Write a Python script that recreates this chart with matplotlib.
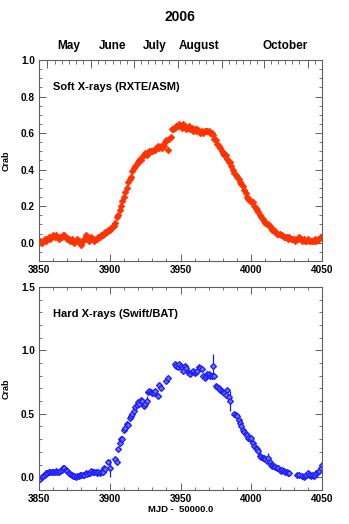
import numpy as np
import matplotlib
matplotlib.use('Agg')
import matplotlib.pyplot as plt
from matplotlib.ticker import MultipleLocator, FixedLocator, FormatStrFormatter

plt.rcParams['font.family'] = ['Liberation Sans', 'DejaVu Sans']
plt.rcParams['font.weight'] = 'bold'

# RXTE/ASM daily values, MJD-50000 = 3850 ... 4050
asm_day = np.arange(3850, 4051)
asm_rate = [
    0.00, 0.01, 0.00, 0.01, 0.02, 0.01, 0.02, 0.03, 0.02, 0.03,
    0.04, 0.03, 0.04, 0.03, 0.02, 0.03, 0.03, 0.04, 0.04, 0.03,
    0.02, 0.02, 0.01, 0.02, 0.01, 0.00, 0.01, 0.02, 0.01, 0.00,
    -0.01, 0.01, 0.02, 0.04, 0.02, 0.01, 0.02, 0.03, 0.02, 0.01,
    0.02, 0.02, 0.03, 0.03, 0.04, 0.04, 0.05, 0.06, 0.06, 0.07,
    0.07, 0.08, 0.09, 0.09, 0.11, 0.14, 0.15, 0.18, 0.20, 0.23,
    0.25, 0.28, 0.30, 0.33, 0.35, 0.36, 0.39, 0.41, 0.42, 0.43,
    0.44, 0.45, 0.45, 0.47, 0.48, 0.49, 0.48, 0.49, 0.50, 0.50,
    0.50, 0.51, 0.51, 0.52, 0.53, 0.52, 0.53, 0.52, 0.53, 0.55,
    0.56, 0.51, 0.57, 0.58, 0.62, 0.62, 0.63, 0.64, 0.64, 0.65,
    0.64, 0.63, 0.65, 0.64, 0.62, 0.63, 0.64, 0.62, 0.63, 0.61,
    0.62, 0.61, 0.62, 0.61, 0.60, 0.61, 0.60, 0.61, 0.61, 0.61,
    0.61, 0.60, 0.60, 0.59, 0.57, 0.56, 0.54, 0.53, 0.52, 0.50,
    0.49, 0.48, 0.48, 0.46, 0.44, 0.44, 0.42, 0.40, 0.38, 0.37,
    0.36, 0.35, 0.33, 0.32, 0.31, 0.29, 0.27, 0.25, 0.24, 0.23,
    0.23, 0.22, 0.20, 0.19, 0.18, 0.17, 0.15, 0.14, 0.13, 0.12,
    0.11, 0.10, 0.10, 0.09, 0.08, 0.07, 0.07, 0.06, 0.05, 0.05,
    0.05, 0.04, 0.04, 0.03, 0.03, 0.03, 0.02, 0.03, 0.02, 0.02,
    0.02, 0.01, 0.02, 0.02, 0.03, 0.02, 0.01, 0.02, 0.01, 0.01,
    0.02, 0.01, 0.01, 0.01, 0.01, 0.02, 0.01, 0.02, 0.02, 0.03, 0.03,
]
asm_err = 0.012

# Swift/BAT
bat_day = [
    3850, 3851, 3852, 3853, 3854, 3855, 3856, 3857, 3858, 3859,
    3860, 3861, 3862, 3863, 3864, 3865, 3866, 3867, 3868, 3869,
    3870, 3871, 3872, 3873, 3874, 3875, 3876, 3877, 3878, 3879,
    3880, 3881, 3882, 3883, 3884, 3885, 3886, 3887, 3888, 3889,
    3890, 3891, 3892, 3893, 3894, 3895, 3896, 3897, 3899,
    3904, 3905, 3906, 3907, 3908, 3909, 3910, 3911, 3912, 3913,
    3914, 3915, 3916, 3917, 3918, 3919, 3920, 3921, 3922, 3923,
    3924, 3925, 3927, 3928, 3929, 3930, 3931, 3932, 3934, 3935,
    3936, 3940, 3941, 3946, 3947, 3948, 3949, 3950, 3951, 3952,
    3953, 3954, 3955, 3956, 3957, 3958, 3959, 3960, 3961, 3962,
    3963, 3964, 3965, 3966, 3967, 3968, 3969, 3970, 3971, 3972,
    3974, 3975, 3976, 3977, 3978, 3979, 3980, 3981, 3982, 3983,
    3984, 3988, 3989, 3990, 3991, 3992, 3993, 3994, 3995, 3996,
    3997, 3998, 3999, 4000, 4001, 4002, 4003, 4004, 4005, 4006,
    4007, 4008, 4009, 4010, 4011, 4013, 4014, 4015, 4016, 4017,
    4018, 4019, 4020, 4021, 4022, 4023, 4024, 4025, 4026, 4027,
    4032, 4034, 4036, 4037, 4038, 4039, 4040, 4041, 4042, 4043,
    4044, 4045, 4046, 4047, 4048, 4049, 4050,
]
bat_rate = [
    -0.01, -0.01, 0.00, 0.01, 0.02, 0.03, 0.035, 0.04, 0.04, 0.04,
    0.045, 0.04, 0.05, 0.045, 0.04, 0.05, 0.06, 0.07, 0.07, 0.06,
    0.05, 0.035, 0.025, 0.015, 0.01, 0.01, 0.005, 0.01, 0.01, 0.015,
    0.015, 0.02, 0.02, 0.03, 0.025, 0.035, 0.03, 0.05, 0.045, 0.04,
    0.04, 0.035, 0.04, 0.035, 0.04, 0.045, 0.07, 0.065, 0.12,
    0.14, 0.12, 0.22, 0.27, 0.30, 0.30, 0.37, 0.39, 0.42, 0.41,
    0.47, 0.48, 0.50, 0.52, 0.55, 0.57, 0.59, 0.58, 0.61, 0.60,
    0.56, 0.58, 0.67, 0.68, 0.67, 0.66, 0.66, 0.68, 0.64, 0.73,
    0.70, 0.76, 0.78, 0.89, 0.88, 0.87, 0.89, 0.88, 0.86, 0.84,
    0.88, 0.86, 0.83, 0.82, 0.81, 0.83, 0.84, 0.82, 0.83, 0.84,
    0.87, 0.86, 0.85, 0.80, 0.78, 0.80, 0.81, 0.81, 0.80, 0.80,
    0.80, 0.72, 0.71, 0.70, 0.69, 0.68, 0.67, 0.66, 0.65, 0.69,
    0.63, 0.50, 0.49, 0.48, 0.45, 0.43, 0.40, 0.37, 0.36, 0.34,
    0.33, 0.31, 0.30, 0.31, 0.27, 0.25, 0.23, 0.22, 0.21, 0.17,
    0.16, 0.15, 0.15, 0.14, 0.13, 0.12, 0.10, 0.09, 0.09, 0.08,
    0.07, 0.07, 0.06, 0.05, 0.055, 0.05, 0.04, 0.04, 0.03, 0.03,
    0.02, 0.02, 0.01, 0.005, 0.01, 0.02, 0.03, 0.02, 0.01, 0.02,
    0.01, 0.02, 0.03, 0.04, 0.05, 0.07, 0.10,
]
bat_err = 0.015
# BAT points with large error bars
bat_big_day = [3900, 3926, 3973, 3985, 4012]
bat_big_rate = [0.07, 0.60, 0.88, 0.60, 0.15]
bat_big_err = [0.07, 0.04, 0.09, 0.08, 0.04]

month_start = [3856, 3887, 3917, 3948, 3979, 4009, 4040]
month_names = ['May', 'June', 'July', 'August', 'October']
month_mid = [3871, 3902, 3932, 3963, 4024]

red = '#ff3300'
blue = '#1a1aff'
gray = '#606060'

fig = plt.figure(figsize=(3.49, 5.24), dpi=100)
ax1 = fig.add_axes([0.1117, 0.502, 0.811, 0.3835])
ax2 = fig.add_axes([0.1117, 0.065, 0.811, 0.3875])

def style_axis(ax):
    for s in ax.spines.values():
        s.set_color(gray)
        s.set_linewidth(0.8)
    ax.tick_params(which='both', direction='in', color=gray, labelsize=7.2,
                   right=True, top=True, pad=3)
    ax.tick_params(which='major', length=5, width=0.7)
    ax.tick_params(which='minor', length=2.5, width=0.6)
    ax.set_xlim(3850, 4050)
    ax.xaxis.set_major_locator(MultipleLocator(50))
    ax.xaxis.set_minor_locator(MultipleLocator(10))
    ax.yaxis.set_major_formatter(FormatStrFormatter('%.1f'))

# top panel: soft X-rays
ax1.errorbar(asm_day, asm_rate, yerr=asm_err, fmt='D', color=red, ms=3.4,
             mew=0.5, elinewidth=0.6, capsize=0)
ax1.set_ylim(-0.1, 1.0)
ax1.yaxis.set_major_locator(MultipleLocator(0.2))
ax1.yaxis.set_minor_locator(MultipleLocator(0.05))
style_axis(ax1)
ax1.set_ylabel('Crab', fontsize=6.5, fontweight='bold', labelpad=7)
ax1.text(0.05, 0.85, 'Soft X-rays (RXTE/ASM)', transform=ax1.transAxes,
         fontsize=8, fontweight='bold')

# month ticks on top of the upper panel
axm = ax1.twiny()
axm.set_xlim(3850, 4050)
axm.xaxis.set_major_locator(FixedLocator(month_start))
weeks = []
for m in month_start:
    for d in (5, 10, 15, 20, 25):
        if 3850 < m + d < 4050:
            weeks.append(m + d)
axm.xaxis.set_minor_locator(FixedLocator(weeks))
axm.tick_params(which='both', direction='in', color=gray, labeltop=False)
axm.tick_params(which='major', length=6, width=0.7)
axm.tick_params(which='minor', length=3, width=0.6)
ax1.tick_params(axis='x', which='both', top=False)
for s in axm.spines.values():
    s.set_visible(False)
for name, x in zip(month_names, month_mid):
    ax1.text(x, 1.04, name, transform=ax1.get_xaxis_transform(),
             ha='center', va='bottom', fontsize=8.5, fontweight='bold')
fig.text(0.515, 0.968, '2006', ha='center', va='center', fontsize=10,
         fontweight='bold')

# bottom panel: hard X-rays
ax2.errorbar(bat_day, bat_rate, yerr=bat_err, fmt='D', color=blue, ms=3.0,
             mfc='#7070ff', mec=blue, mew=0.9, elinewidth=0.8, capsize=0)
ax2.errorbar(bat_big_day, bat_big_rate, yerr=bat_big_err, fmt='D', color=blue,
             ms=3.0, mfc='#7070ff', mec=blue, mew=0.9, elinewidth=0.9,
             capsize=0)
ax2.set_ylim(-0.1, 1.5)
ax2.yaxis.set_major_locator(MultipleLocator(0.5))
ax2.yaxis.set_minor_locator(MultipleLocator(0.1))
style_axis(ax2)
ax2.set_ylabel('Crab', fontsize=6.5, fontweight='bold', labelpad=7)
ax2.set_xlabel('MJD -  50000.0', fontsize=6.8, fontweight='bold', labelpad=1)
ax2.text(0.05, 0.85, 'Hard X-rays (Swift/BAT)', transform=ax2.transAxes,
         fontsize=8, fontweight='bold')

fig.savefig('out.png', dpi=100)
